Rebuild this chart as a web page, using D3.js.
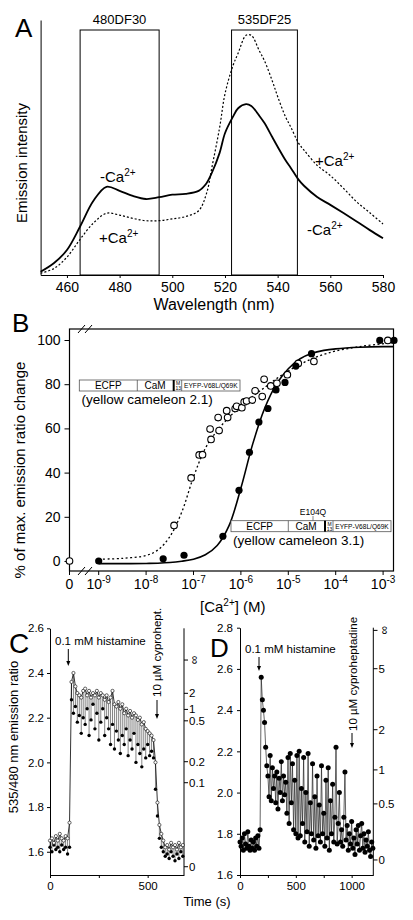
<!DOCTYPE html>
<html><head><meta charset="utf-8">
<script src="https://cdn.jsdelivr.net/npm/d3@7"></script>
<style>
body{margin:0;background:#fff}
svg{display:block;background:#fff}
text{font-family:"Liberation Sans",Arial,Helvetica,sans-serif;fill:#000}
</style>
</head><body>
<svg id="fig" width="413" height="920"></svg>
<script>
// ---------------- DATA ----------------
// Panel A: emission spectra (arbitrary intensity units)
const aWave = [450,455,460,465,470,475,480,485,490,495,500,505,510,513,515,518,520,523,525,528,530,533,535,538,540,543,545,548,550,555,560,565,570,575,580];
const aMinusCa = [1.3,4.6,9.8,19,29,34.6,33,31,29.8,30.5,31.5,31.8,33,36,40,48,55.6,62,65.4,67,66.3,62.5,59.6,54,50.3,45,42,37.3,35,30.6,27.5,24.3,21,17.6,14.4];
const aPlusCa  = [0.7,2.5,7,14,20.3,24.2,23.5,22.2,21.3,21.3,22,22.9,25.2,32,42,58,71,82,87,94,94,88,84,76,70,62,58,51.6,49,43,39,34,28.7,24.4,20];
const aTicks = [460,480,500,520,540,560,580];
const aFilterNames = ["480DF30","535DF25"];
const aFilterLo = [465,522.5];
const aFilterHi = [495,547.5];

// Panel B: Ca2+ titration (log10 [Ca2+]; null = zero Ca2+)
const bYC21Log = [null,-7.41,-7.05,-6.88,-6.81,-6.63,-6.65,-6.46,-6.48,-6.28,-6.30,-6.12,-6.09,-5.98,-5.93,-5.88,-5.76,-5.70,-5.55,-5.51,-5.37,-5.24,-5.02,-4.79,-4.46,-2.90];
const bYC21Val = [0,16.1,37.6,48,48.1,55,59.7,59,64.9,64.9,68,69,70,69.4,72,72.4,72.8,77,74.4,82.2,79.2,80.4,84.3,89.4,90.3,99.8];
const bYC31Log = [-9,-7.64,-7.20,-6.38,-6.04,-5.82,-5.62,-5.43,-5.26,-5.07,-4.84,-4.51,-3.07,-2.77];
const bYC31Val = [0,1,2.6,11.2,32,49.2,62.9,69,77.4,80.8,88.2,93.8,99.8,99.8];
const bFitLog  = [-9,-8.5,-8,-7.75,-7.5,-7.25,-7,-6.75,-6.5,-6.25,-6,-5.75,-5.5,-5.25,-5,-4.75,-4.5,-4.25,-4,-3.5,-3,-2.77];
const bFit31   = [-1.2,-1.2,-1.1,-1.0,-0.7,-0.1,0.8,2.8,7,16,33,53,69,80,87,91.5,94,95.3,96,96.7,97,97];
const bFit21   = [0.8,1.2,2.5,5,11,22,38,51,59,65,70,74.5,78.5,82.5,86,89,91.5,93.5,95,97,98.3,98.8];
const bYTicks = [0,20,40,60,80,100];
const bXDecades = [-9,-8,-7,-6,-5,-4,-3];

// Panel C: HeLa cell trace, yellow cameleon (time s, 535/480 ratio)
const cTime = d3.range(0,690,10);
const cOpen = [1.65,1.66,1.64,1.67,1.65,1.68,1.66,1.65,1.67,1.66,1.73,2.36,2.40,2.34,2.31,2.30,2.29,2.32,2.33,2.30,2.32,2.29,2.31,2.30,2.32,2.29,2.31,2.30,2.28,2.30,2.27,2.29,2.32,2.26,2.25,2.27,2.24,2.26,2.22,2.24,2.21,2.23,2.20,2.22,2.21,2.19,2.20,2.17,2.18,2.15,2.14,2.13,2.12,2.10,2.00,1.82,1.72,1.68,1.65,1.62,1.63,1.61,1.64,1.62,1.63,1.61,1.64,1.62,1.63];
const cFilled = [1.62,1.60,1.63,1.61,1.62,1.60,1.63,1.61,1.62,1.59,1.62,2.28,2.22,2.25,2.18,2.21,2.13,2.20,2.17,2.24,2.12,2.19,2.26,2.15,2.22,2.10,2.18,2.24,2.12,2.20,2.15,2.08,2.17,2.06,2.14,2.10,2.04,2.12,2.08,2.15,2.03,2.10,2.06,2.13,2.00,2.08,2.04,1.98,2.06,2.02,2.08,2.03,2.05,2.02,1.88,1.76,1.66,1.62,1.60,1.58,1.59,1.57,1.60,1.58,1.56,1.59,1.57,1.60,1.58];
const cYTicks = [1.6,1.8,2.0,2.2,2.4,2.6];
const cXTicks = [0,250,500];
const cCaLabels = ["∞","2","1","0.5","0.2","0.1","0"];
const cCaRatios = [2.458,2.309,2.237,2.186,2.003,1.909,1.533];

// Panel D
const dTime = d3.range(0,1200,10);
const dRatio = [1.76,1.74,1.78,1.72,1.80,1.75,1.73,1.81,1.74,1.72,1.77,1.73,1.76,1.72,1.78,1.74,1.79,1.73,1.82,
 2.56,2.45,2.40,2.34,2.22,2.13,2.08,1.98,2.18,1.96,2.12,2.02,2.08,1.95,2.10,1.92,2.07,2.00,2.15,1.96,2.08,
 1.99,2.05,1.90,2.17,1.85,2.19,1.95,2.14,1.82,2.06,1.80,2.18,1.78,2.20,1.79,2.02,1.85,2.17,1.76,2.00,
 1.81,2.19,1.74,1.95,1.80,2.14,1.77,1.98,1.73,2.08,1.79,1.94,1.76,2.13,1.80,1.90,1.74,2.06,1.78,2.12,
 1.72,1.96,1.80,2.04,1.76,1.88,2.22,1.75,1.85,2.00,1.76,1.82,1.74,1.88,2.10,1.77,1.84,1.72,1.80,1.75,
 1.86,1.73,1.78,1.70,1.82,1.75,1.84,1.72,1.79,1.85,1.73,1.80,1.71,1.77,1.74,1.81,1.72,1.69,1.76,1.73];
const dYTicks = [1.6,1.8,2.0,2.2,2.4,2.6,2.8];
const dXTicks = [0,250,500,750,1000];
const dXLabels = [0,500,1000];
const dCaLabels = ["∞","5","2","1","0.5","0"];
const dCaRatios = [2.787,2.601,2.305,2.110,1.945,1.673];

// ---------------- DRAW ----------------
const svg = d3.select("#fig");
svg.append("rect").attr("width",413).attr("height",920).attr("fill","#fff");

function sup(sel, base, s, size){
  sel.append("tspan").text(base);
  sel.append("tspan").attr("dy",-6).attr("font-size",size).text(s);
}
function arrowDown(g,x,y1,y2){
  g.append("line").attr("x1",x).attr("x2",x).attr("y1",y1).attr("y2",y2-4).attr("stroke","#000").attr("stroke-width",1);
  g.append("path").attr("d",`M${x-2},${y2-5}L${x+2},${y2-5}L${x},${y2}Z`).attr("fill","#000");
}
function styleAxis(g,size){
  g.selectAll("text").attr("font-family","Liberation Sans, Arial, sans-serif").attr("font-size",size).attr("fill","#000");
  g.selectAll("line").attr("stroke","#000");
  g.selectAll("path.domain").attr("stroke","#000");
}

// ===== Panel A =====
const A = svg.append("g");
const xA = d3.scaleLinear().domain([450,580]).range([40.6,383]);
const yA = d3.scaleLinear().domain([0,100]).range([275,20]);
A.append("g").attr("transform","translate(0,275)")
  .call(d3.axisBottom(xA).tickValues(aTicks).tickSize(3).tickSizeOuter(0).tickPadding(4))
  .call(g=>styleAxis(g,14));
A.append("g").attr("transform","translate(40.6,0)")
  .call(d3.axisLeft(yA).tickValues([]).tickSizeOuter(0))
  .call(g=>styleAxis(g,14));
aFilterNames.forEach((n,i)=>{
  A.append("rect").attr("x",xA(aFilterLo[i])).attr("y",30)
    .attr("width",xA(aFilterHi[i])-xA(aFilterLo[i])).attr("height",245)
    .attr("fill","none").attr("stroke","#000").attr("stroke-width",1);
  A.append("text").attr("x",(xA(aFilterLo[i])+xA(aFilterHi[i]))/2).attr("y",24)
    .attr("text-anchor","middle").attr("font-size",13).text(n);
});
const lineA = d3.line().curve(d3.curveCatmullRom).x((d,i)=>xA(aWave[i])).y(d=>yA(d));
A.append("path").attr("d",lineA(aPlusCa)).attr("fill","none").attr("stroke","#000")
  .attr("stroke-width",1.2).attr("stroke-dasharray","2,2");
A.append("path").attr("d",lineA(aMinusCa)).attr("fill","none").attr("stroke","#000").attr("stroke-width",1.8);
[[100,181.5,"-Ca"],[99,243,"+Ca"],[315,165.5,"+Ca"],[307,235,"-Ca"]].forEach(p=>{
  const t=A.append("text").attr("x",p[0]).attr("y",p[1]).attr("font-size",15);
  sup(t,p[2],"2+",10);
});
A.append("text").attr("transform","translate(27,163) rotate(-90)").attr("text-anchor","middle")
  .attr("font-size",15).text("Emission intensity");
A.append("text").attr("x",214).attr("y",310).attr("text-anchor","middle").attr("font-size",16).text("Wavelength (nm)");
A.append("text").attr("x",15).attr("y",36.7).attr("font-size",26).text("A");

// ===== Panel B =====
const B = svg.append("g");
const xB = d3.scaleLinear().domain([-9,-2.77]).range([98.7,394]);
const x0B = 69.5;
const yB = d3.scaleLinear().domain([0,100]).range([561,340]);
const bx = v => v===null ? x0B : xB(v);
B.append("rect").attr("x",69.5).attr("y",329).attr("width",324).attr("height",242)
  .attr("fill","none").attr("stroke","#000").attr("stroke-width",1.2);
[[329],[571]].forEach(r=>{
  [78,85].forEach(x=>{
    B.append("line").attr("x1",x).attr("y1",r[0]+4).attr("x2",x+7).attr("y2",r[0]-4)
      .attr("stroke","#000").attr("stroke-width",1);
  });
});
B.append("g").attr("transform","translate(69.5,0)")
  .call(d3.axisLeft(yB).tickValues(bYTicks).tickSize(5).tickPadding(4).tickSizeOuter(0))
  .call(g=>{g.select(".domain").remove(); styleAxis(g,14);});
const bTickX = [null].concat(bXDecades);
bTickX.forEach(v=>{
  B.append("line").attr("x1",bx(v)).attr("x2",bx(v)).attr("y1",571).attr("y2",575).attr("stroke","#000");
  const t = B.append("text").attr("x",bx(v)).attr("y",589).attr("text-anchor","middle").attr("font-size",14);
  if(v===null) t.text("0"); else sup(t,"10",String(v),10);
});
const lineB = d3.line().curve(d3.curveCatmullRom).x((d,i)=>xB(bFitLog[i])).y(d=>yB(d));
B.append("path").attr("d",lineB(bFit21)).attr("fill","none").attr("stroke","#000").attr("stroke-width",1.3).attr("stroke-dasharray","2,2.5");
B.append("path").attr("d",lineB(bFit31)).attr("fill","none").attr("stroke","#000").attr("stroke-width",1.6);
B.selectAll("circle.o").data(bYC21Log).join("circle").attr("class","o")
  .attr("cx",d=>bx(d)).attr("cy",(d,i)=>yB(bYC21Val[i])).attr("r",3.3)
  .attr("fill","#fff").attr("stroke","#000").attr("stroke-width",1.1);
B.selectAll("circle.f").data(bYC31Log).join("circle").attr("class","f")
  .attr("cx",d=>bx(d)).attr("cy",(d,i)=>yB(bYC31Val[i])).attr("r",3.6).attr("fill","#000");
function construct(x0,y0,xs){
  const g=B.append("g");
  g.append("rect").attr("x",x0).attr("y",y0).attr("width",xs[4]-x0).attr("height",11).attr("fill","#fff").attr("stroke","#555").attr("stroke-width",0.8);
  g.append("line").attr("x1",xs[0]).attr("x2",xs[0]).attr("y1",y0).attr("y2",y0+11).attr("stroke","#555").attr("stroke-width",0.8);
  g.append("rect").attr("x",xs[1]).attr("y",y0).attr("width",2).attr("height",11).attr("fill","#000");
  g.append("line").attr("x1",xs[2]).attr("x2",xs[2]).attr("y1",y0).attr("y2",y0+11).attr("stroke","#555").attr("stroke-width",0.8);
  g.append("text").attr("x",(x0+xs[0])/2).attr("y",y0+9).attr("text-anchor","middle").attr("font-size",10).text("ECFP");
  g.append("text").attr("x",(xs[0]+xs[1])/2).attr("y",y0+9).attr("text-anchor","middle").attr("font-size",10).text("CaM");
  g.append("text").attr("x",(xs[1]+2+xs[2])/2).attr("y",y0+5).attr("text-anchor","middle").attr("font-size",5).attr("fill","#444").text("M");
  g.append("text").attr("x",(xs[1]+2+xs[2])/2).attr("y",y0+10).attr("text-anchor","middle").attr("font-size",5).attr("fill","#444").text("13");
  g.append("text").attr("x",(xs[2]+xs[4])/2).attr("y",y0+8.3).attr("text-anchor","middle").attr("font-size",6.6).text("EYFP-V68L/Q69K");
}
construct(79.3,380,[137.3,172.7,181.7,0,240]);
B.append("text").attr("x",81.5).attr("y",404).attr("font-size",13.5).text("(yellow cameleon 2.1)");
construct(231,520.7,[288.3,324,333,0,391]);
B.append("text").attr("x",313).attr("y",514.5).attr("text-anchor","middle").attr("font-size",8.5).text("E104Q");
B.append("line").attr("x1",313).attr("x2",313).attr("y1",516).attr("y2",520.7).attr("stroke","#555").attr("stroke-width",0.7);
B.append("text").attr("x",233).attr("y",545).attr("font-size",13.5).text("(yellow cameleon 3.1)");
B.append("text").attr("transform","translate(25,470) rotate(-90)").attr("text-anchor","middle")
  .attr("font-size",15).text("% of max. emission ratio change");
{
  const t=B.append("text").attr("x",200).attr("y",612).attr("font-size",15);
  t.append("tspan").text("[Ca");
  t.append("tspan").attr("dy",-6).attr("font-size",10).text("2+");
  t.append("tspan").attr("dy",6).text("] (M)");
}
B.append("text").attr("x",12).attr("y",331.7).attr("font-size",26).text("B");

// ===== Panel C =====
const C = svg.append("g");
const xC = d3.scaleLinear().domain([0,686]).range([50,184]);
const yC = d3.scaleLinear().domain([1.496,2.6]).range([875,628.3]);
C.append("g").attr("transform","translate(50,0)")
  .call(d3.axisLeft(yC).tickValues(cYTicks).tickFormat(d3.format(".1f")).tickSize(3).tickPadding(3).tickSizeOuter(0))
  .call(g=>styleAxis(g,11.5));
C.append("g").attr("transform","translate(0,875)")
  .call(d3.axisBottom(xC).tickValues(cXTicks).tickFormat(d=>d===250?"":d).tickSize(3).tickPadding(4).tickSizeOuter(0))
  .call(g=>styleAxis(g,11.5));
C.append("line").attr("x1",184).attr("x2",184).attr("y1",628.3).attr("y2",875).attr("stroke","#000");
cCaLabels.forEach((l,i)=>{
  const y=yC(cCaRatios[i]);
  C.append("line").attr("x1",184).attr("x2",188).attr("y1",y).attr("y2",y).attr("stroke","#000");
  if(l==="∞") C.append("text").attr("transform",`translate(190,${y}) rotate(90)`).attr("text-anchor","middle").attr("dy","-0.1em").attr("font-size",12).text(l);
  else C.append("text").attr("x",189).attr("y",y).attr("dy","0.35em").attr("font-size",11.5).text(l);
});
const gc = C.append("g");
cTime.forEach((t,i)=>{
  gc.append("line").attr("x1",xC(t)).attr("x2",xC(t)).attr("y1",yC(cOpen[i])).attr("y2",yC(cFilled[i]))
    .attr("stroke","#333").attr("stroke-width",0.6);
});
gc.append("path").attr("d",d3.line().x((d,i)=>xC(cTime[i])).y(d=>yC(d))(cOpen))
  .attr("fill","none").attr("stroke","#000").attr("stroke-width",0.8);
gc.selectAll("circle.f").data(cFilled).join("circle").attr("class","f")
  .attr("cx",(d,i)=>xC(cTime[i])).attr("cy",d=>yC(d)).attr("r",1.7).attr("fill","#000");
gc.selectAll("circle.o").data(cOpen).join("circle").attr("class","o")
  .attr("cx",(d,i)=>xC(cTime[i])).attr("cy",d=>yC(d)).attr("r",1.6).attr("fill","#fff").attr("stroke","#000").attr("stroke-width",0.6);
C.append("text").attr("x",55).attr("y",645).attr("font-size",11.5).text("0.1 mM histamine");
arrowDown(C,68.3,649,666);
C.append("text").attr("transform","translate(161,697) rotate(-90)").attr("font-size",11.5).text("10 µM cyprohept.");
arrowDown(C,157,700,719);
C.append("text").attr("transform","translate(18,737) rotate(-90)").attr("text-anchor","middle")
  .attr("font-size",13).text("535/480 nm emission ratio");
C.append("text").attr("x",9).attr("y",653).attr("font-size",28).text("C");

// ===== Panel D =====
const D = svg.append("g");
const xD = d3.scaleLinear().domain([0,1194]).range([240,373.3]);
const yD = d3.scaleLinear().domain([1.6,2.8]).range([875,627.7]);
D.append("g").attr("transform","translate(240,0)")
  .call(d3.axisLeft(yD).tickValues(dYTicks).tickFormat(d3.format(".1f")).tickSize(3).tickPadding(4).tickSizeOuter(0))
  .call(g=>styleAxis(g,11.5));
D.append("g").attr("transform","translate(0,875)")
  .call(d3.axisBottom(xD).tickValues(dXTicks).tickFormat(d=>dXLabels.includes(d)?d:"").tickSize(3).tickPadding(4).tickSizeOuter(0))
  .call(g=>styleAxis(g,11.5));
D.append("line").attr("x1",373.3).attr("x2",373.3).attr("y1",627.7).attr("y2",875).attr("stroke","#000");
dCaLabels.forEach((l,i)=>{
  const y=yD(dCaRatios[i]);
  D.append("line").attr("x1",373.3).attr("x2",377.5).attr("y1",y).attr("y2",y).attr("stroke","#000");
  if(l==="∞") D.append("text").attr("transform",`translate(380,${y}) rotate(90)`).attr("text-anchor","middle").attr("dy","-0.1em").attr("font-size",12).text(l);
  else D.append("text").attr("x",378.5).attr("y",y).attr("dy","0.35em").attr("font-size",11.5).text(l);
});
D.append("path").attr("d",d3.line().x((d,i)=>xD(dTime[i])).y(d=>yD(d))(dRatio))
  .attr("fill","none").attr("stroke","#222").attr("stroke-width",0.7);
D.selectAll("circle.f").data(dRatio).join("circle").attr("class","f")
  .attr("cx",(d,i)=>xD(dTime[i])).attr("cy",d=>yD(d)).attr("r",2.5).attr("fill","#000");
D.append("text").attr("x",245).attr("y",653).attr("font-size",11.5).text("0.1 mM histamine");
arrowDown(D,259,657,671);
D.append("text").attr("transform","translate(357,731) rotate(-90)").attr("font-size",11.5).text("10 µM cyproheptadine");
arrowDown(D,352,733,748);
D.append("text").attr("x",210).attr("y",657).attr("font-size",26).text("D");

svg.append("text").attr("x",207).attr("y",906).attr("text-anchor","middle").attr("font-size",13).text("Time (s)");
</script>
</body></html>
